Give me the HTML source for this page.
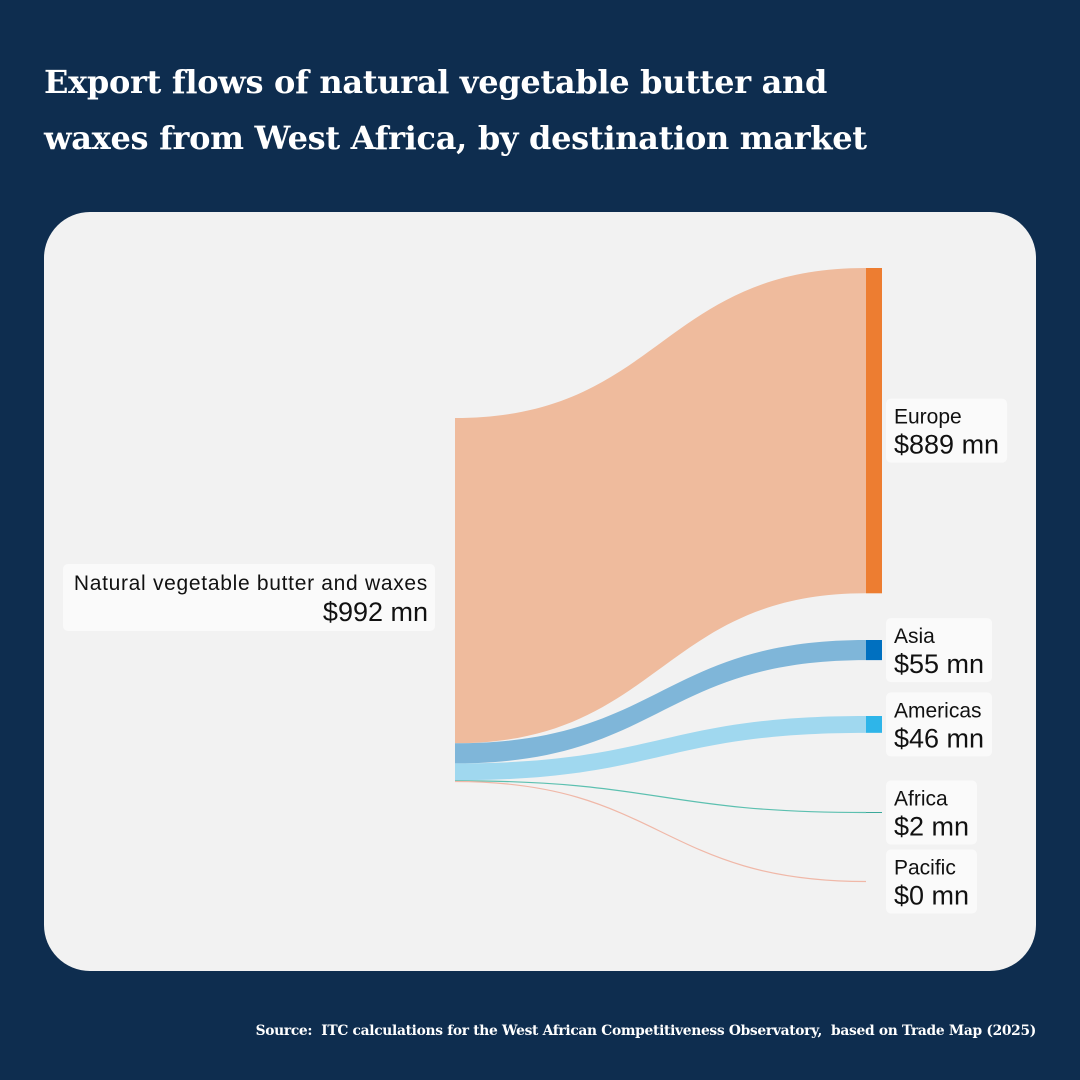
<!DOCTYPE html>
<html><head><meta charset="utf-8"><style>
body{margin:0;width:1080px;height:1080px;background:#0e2d4f;position:relative;overflow:hidden;font-family:"Liberation Sans",sans-serif}
.title{position:absolute;left:44px;top:54px;color:#fff;font-family:"DejaVu Serif","Liberation Serif",serif;font-weight:bold;font-size:32px;line-height:56px;letter-spacing:-0.3px}
.card{position:absolute;left:44px;top:212px;width:992px;height:759px;background:#f2f2f2;border-radius:46px}
.src{position:absolute;right:44px;top:1023px;color:#fff;font-family:"DejaVu Serif","Liberation Serif",serif;font-weight:bold;font-size:13.8px;letter-spacing:-0.3px;white-space:nowrap}
svg{position:absolute;left:0;top:0}
</style></head><body>
<div class="title">Export flows of natural vegetable butter and<br>waxes from West Africa, by destination market</div>
<div class="card"></div>
<svg id="chart" width="1080" height="1080"></svg>
<div class="src">Source:&nbsp; ITC calculations for the West African Competitiveness Observatory,&nbsp; based on Trade Map (2025)</div>
<script>
const sourceName = "Natural vegetable butter and waxes";
const sourceValue = 992;
const targets = ["Europe","Asia","Americas","Africa","Pacific"];
const values = [889,55,46,2,0];
const linkColors = ["#efbb9d","#7fb6d9","#a0d8ef","#5cc0b0","#f0b8a8"];
const nodeColors = ["#ed7d31","#0070c0","#2eb5e9","#3aa89a","#f0b8a8"];
const targetTops = [268,640,716,812,881];
const NS="http://www.w3.org/2000/svg";
const svg=document.getElementById('chart');
const srcTop=418, srcBottom=781, x0=455, x1=866, nodeW=16;
const k=(srcBottom-srcTop)/sourceValue;
function h(v){return Math.max(v*k, 1);}
function mk(tag,attrs,parent){const e=document.createElementNS(NS,tag);for(const a in attrs)e.setAttribute(a,attrs[a]);(parent||svg).appendChild(e);return e;}
let sy=srcTop;
const xm=(x0+x1)/2;
targets.forEach((t,i)=>{
  const hh=h(values[i]);
  const ty=targetTops[i];
  let p;
  if(values[i]*k<2){
    const a=sy+hh/2, b=ty+hh/2;
    p=mk('path',{d:`M${x0},${a} C${xm},${a} ${xm},${b} ${x1},${b}`,fill:'none',stroke:linkColors[i],'stroke-width':1.2});
  } else {
    p=mk('path',{d:`M${x0},${sy} C${xm},${sy} ${xm},${ty} ${x1},${ty} L${x1},${ty+hh} C${xm},${ty+hh} ${xm},${sy+hh} ${x0},${sy+hh} Z`,fill:linkColors[i]});
  }
  
  
  if(values[i]>0){
    const r=mk('rect',{x:x1,y:ty,width:nodeW,height:hh,fill:nodeColors[i]});
    
    
  }
  sy+=values[i]*k;
  const cy=ty+hh/2;
  const bx=886, bh=64, by=cy-bh/2;
  const g=mk('g',{});
  
  
  const rr=mk('rect',{x:bx,y:by,width:10,height:bh,rx:5,fill:'#fafafa'},g);
  const a1=mk('text',{x:bx+8,y:by+25,'font-size':21,fill:'#111'},g);a1.textContent=t;
  const a2=mk('text',{x:bx+8,y:by+55,'font-size':27,fill:'#111'},g);a2.textContent='$'+values[i]+' mn';
  const w=Math.max(a1.getComputedTextLength(),a2.getComputedTextLength())+16;
  rr.setAttribute('width',w);
});
const sg=mk('g',{});


mk('rect',{x:63,y:564,width:372,height:67,rx:5,fill:'#fafafa'},sg);
const s1=mk('text',{x:428,y:590,'font-size':21,'letter-spacing':0.7,fill:'#111','text-anchor':'end'},sg);s1.textContent=sourceName;
const s2=mk('text',{x:428,y:621,'font-size':27,fill:'#111','text-anchor':'end'},sg);s2.textContent='$'+sourceValue+' mn';
</script>
</body></html>
